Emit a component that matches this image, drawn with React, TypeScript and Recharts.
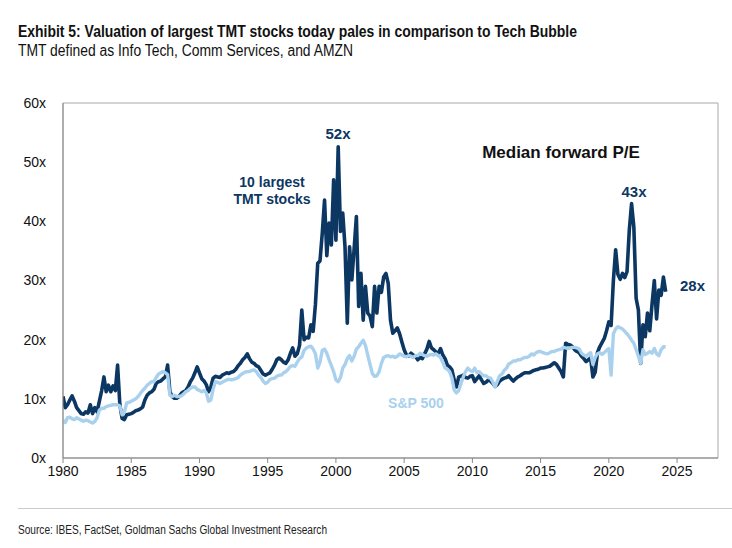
import { LineChart, Line, XAxis, YAxis, ReferenceArea } from 'recharts'

// median forward P/E, sampled every two months from Jan 1980
const tmtPE = [
  10.4, 8.5, 9.0, 9.8, 10.5, 9.6,
  8.5, 8.0, 7.5, 7.4, 7.8, 7.6,
  9.0, 7.5, 8.5, 7.8, 9.6, 11.4,
  13.7, 11.2, 12.3, 11.2, 12.2, 11.4,
  15.7, 9.0, 6.7, 6.5, 7.3, 7.4,
  7.5, 7.7, 8.0, 8.1, 8.3, 8.6,
  9.8, 10.6, 11.0, 11.2, 11.6, 12.6,
  12.9, 13.0, 13.4, 13.7, 15.7, 11.2,
  10.4, 10.1, 10.1, 10.4, 10.9, 11.2,
  11.4, 12.0, 12.9, 13.5, 14.4, 15.4,
  14.4, 13.4, 13.0, 12.4, 11.2, 12.0,
  13.5, 13.8, 13.7, 13.6, 14.0, 14.2,
  14.4, 14.3, 14.5, 14.6, 15.0, 15.6,
  16.0, 16.6, 17.0, 17.6, 16.8, 16.2,
  16.0, 15.6, 15.4, 14.8, 14.2, 14.0,
  14.2, 14.4, 15.0, 15.7, 16.6, 16.9,
  16.6, 16.2, 16.0, 16.6, 17.7, 18.6,
  17.2, 17.6, 19.0, 25.0, 20.0, 20.4,
  20.3, 22.5, 21.4, 26.0, 32.9, 33.3,
  38.0, 43.6, 34.2, 39.7, 36.0, 47.0,
  36.8, 52.6, 38.3, 41.4, 35.7, 22.8,
  35.7, 30.1, 35.3, 40.8, 25.6, 31.2,
  23.3, 29.0, 24.5, 24.0, 22.2, 29.0,
  24.5, 29.0, 28.0, 30.6, 31.2, 29.5,
  23.3, 21.1, 21.5, 22.0, 21.0, 19.6,
  18.3, 17.4, 17.2, 17.7, 17.4, 17.2,
  16.6, 17.0, 16.8, 17.6, 18.4, 19.7,
  18.6, 18.3, 17.9, 17.7, 18.5, 17.4,
  16.8, 15.7, 15.4, 14.9, 13.2, 12.0,
  13.7, 13.8, 14.0, 13.6, 13.5, 13.8,
  13.9, 12.9, 13.4, 13.9, 13.2, 12.6,
  12.8, 13.2, 13.0, 12.6, 12.1, 12.4,
  13.0, 13.3, 13.5, 13.6, 13.9, 13.4,
  13.0, 13.4, 13.7, 13.9, 14.2, 14.4,
  14.4, 14.4, 14.6, 14.8, 14.9, 15.0,
  15.2, 15.2, 15.3, 15.4, 15.5, 15.8,
  16.1, 15.8, 15.2, 14.6, 13.7, 19.4,
  19.2, 19.1, 18.8, 18.3, 18.0, 17.8,
  17.2, 16.8, 16.3, 16.6, 16.9, 13.7,
  14.5, 17.8, 18.8, 19.5, 20.2, 21.5,
  23.0, 22.4, 30.0, 35.2, 31.0, 30.2,
  31.2, 30.5, 31.5, 38.5, 43.0, 39.0,
  27.0, 25.0, 16.0, 22.5, 20.5, 24.5,
  21.5, 26.0, 30.0, 23.5, 28.4, 27.5,
  30.6, 28.1,
]

const spxPE = [
  6.4, 6.0, 6.8, 6.9, 6.6, 6.5,
  6.8, 6.6, 6.4, 6.2, 6.4, 6.3,
  6.1, 5.9, 6.2, 6.8, 8.1, 8.4,
  8.4, 8.7, 8.8, 8.9, 9.0, 9.0,
  9.0, 8.8, 7.3, 7.8, 9.3, 9.4,
  9.6, 9.8, 10.0, 10.4, 10.9, 11.4,
  11.8, 12.3, 12.6, 12.9, 12.9, 13.6,
  14.2, 14.4, 14.6, 14.4, 14.1, 10.6,
  10.4, 10.6, 10.4, 10.4, 10.5, 10.8,
  11.2, 11.4, 11.8, 12.0, 12.0, 11.6,
  11.4, 11.2, 11.4, 11.0, 9.6, 9.8,
  11.6, 12.9, 12.8, 12.6, 12.8, 13.0,
  13.2, 13.3, 13.2, 13.3, 13.4, 13.6,
  14.0, 14.3, 14.5, 14.6, 14.6, 14.8,
  14.9, 14.6, 14.0, 13.6, 13.0, 12.6,
  12.8, 13.3, 13.4, 13.5, 13.8, 14.0,
  14.0, 14.4, 14.6, 15.0, 15.5, 15.6,
  15.5, 16.2, 16.8, 17.1, 18.2, 18.6,
  18.8, 18.9, 18.4, 17.6, 15.2, 16.2,
  18.2, 18.4, 17.7, 16.6, 15.6, 14.6,
  13.2, 12.9, 13.6, 15.2, 15.8, 16.8,
  17.3, 16.4, 17.2, 18.4, 18.8, 19.4,
  19.9, 19.0, 17.4, 15.8, 14.3, 13.8,
  13.9, 14.6, 16.0, 17.0, 17.2, 17.3,
  17.1, 17.2, 17.0, 17.2, 17.6, 17.4,
  17.2, 17.1, 17.3, 17.2, 17.0, 17.3,
  17.3, 17.7, 17.5, 17.3, 17.2, 17.4,
  17.5, 17.4, 17.6, 17.3, 17.0, 16.2,
  15.2, 15.0, 14.6, 13.5, 11.5, 11.0,
  11.4, 12.6, 13.7, 14.6, 15.2, 14.8,
  14.6, 15.2, 14.4, 14.6, 14.2, 13.9,
  13.9, 13.6, 13.5, 12.8, 12.0, 13.0,
  13.9, 14.2, 14.8, 15.2, 15.9, 16.1,
  16.4, 16.4, 16.6, 16.6, 16.8, 17.0,
  17.0, 17.2, 17.6, 17.4, 17.8, 18.0,
  18.0, 17.8, 17.7, 17.6, 17.8, 18.0,
  18.0, 18.2, 18.3, 18.4, 18.7, 18.6,
  18.5, 18.6, 18.7, 18.7, 18.6, 18.4,
  17.7, 17.4, 17.2, 17.5, 17.8, 15.8,
  17.0, 17.6, 17.8, 17.5, 17.8, 18.2,
  18.5, 14.0, 21.0, 21.8, 22.2, 22.0,
  21.8, 21.4, 21.0, 20.5, 19.9, 19.4,
  18.3, 17.2, 16.0, 18.3, 17.5, 17.7,
  18.0, 17.7, 18.5, 17.6, 17.3, 18.3,
  18.8, 18.8,
]

const yearTicks = [1980, 1985, 1990, 1995, 2000, 2005, 2010, 2015, 2020, 2025]
const peTicks = [0, 10, 20, 30, 40, 50, 60]

const NAVY = '#0c3763'
const LIGHT = '#a9d1ee'

const data = tmtPE.map((v, i) => ({ year: 1980 + i / 6, tmt: v, spx: spxPE[i] }))

const arial = '"Liberation Sans", Arial, sans-serif'

function Note({ x, y, color, size = 15, children, align = 'center' }: any) {
  return (
    <div
      style={{
        position: 'absolute',
        left: x,
        top: y,
        transform: align === 'center' ? 'translate(-50%, -50%)' : 'translate(0, -50%)',
        color,
        fontFamily: arial,
        fontWeight: 700,
        fontSize: size,
        lineHeight: '17px',
        textAlign: 'center',
        whiteSpace: 'nowrap',
      }}
    >
      {children}
    </div>
  )
}

export default function App() {
  return (
    <div style={{ position: 'absolute', left: 0, top: 0, width: 732, height: 548, background: '#fff' }}>
      {/* header and footer texts are squeezed to match the condensed face of the original */}
      <svg width={732} height={548} style={{ position: 'absolute', left: 0, top: 0 }}>
        <text x={18} y={37} fontFamily={arial} fontWeight={700} fontSize={17} fill="#111" textLength={559} lengthAdjust="spacingAndGlyphs">
          Exhibit 5: Valuation of largest TMT stocks today pales in comparison to Tech Bubble
        </text>
        <text x={18} y={56} fontFamily={arial} fontSize={16} fill="#111" textLength={335} lengthAdjust="spacingAndGlyphs">
          TMT defined as Info Tech, Comm Services, and AMZN
        </text>
        <line x1={18} x2={732} y1={508.5} y2={508.5} stroke="#ccc" />
        <text x={18} y={534} fontFamily={arial} fontSize={12.5} fill="#222" textLength={309} lengthAdjust="spacingAndGlyphs">
          Source: IBES, FactSet, Goldman Sachs Global Investment Research
        </text>
      </svg>

      <div style={{ position: 'absolute', left: 0, top: 0 }}>
        <LineChart width={732} height={548} data={data} margin={{ top: 103, right: 14, left: 13, bottom: 60 }}>
          <ReferenceArea x1={1980} x2={2028} y1={0} y2={60} fill="none" stroke="#a8a8a8" strokeWidth={1} ifOverflow="visible" />
          <XAxis
            dataKey="year"
            type="number"
            domain={[1980, 2028]}
            ticks={yearTicks}
            allowDataOverflow
            height={30}
            stroke="#888"
            tickSize={5}
            tickMargin={3}
            tick={{ fill: '#111', fontSize: 14, fontFamily: arial }}
          />
          <YAxis
            type="number"
            domain={[0, 60]}
            ticks={peTicks}
            width={50}
            stroke="#888"
            tickLine={false}
            tickMargin={11}
            tickFormatter={(v: number) => v + 'x'}
            tick={{ fill: '#111', fontSize: 14, fontFamily: arial }}
          />
          <Line dataKey="tmt" stroke={NAVY} strokeWidth={3.6} dot={false} isAnimationActive={false} strokeLinejoin="round" />
          <Line dataKey="spx" stroke={LIGHT} strokeWidth={3.4} dot={false} isAnimationActive={false} strokeLinejoin="round" />
        </LineChart>
      </div>

      <Note x={338} y={133} color={NAVY}>52x</Note>
      <Note x={272} y={191} color={NAVY} size={14}>10 largest<br />TMT stocks</Note>
      <Note x={561} y={152} color="#111" size={17}>Median forward P/E</Note>
      <Note x={634} y={191} color={NAVY}>43x</Note>
      <Note x={680} y={285} color={NAVY} align="left">28x</Note>
      <Note x={416} y={403} color={LIGHT} size={14}>S&amp;P 500</Note>
    </div>
  )
}
